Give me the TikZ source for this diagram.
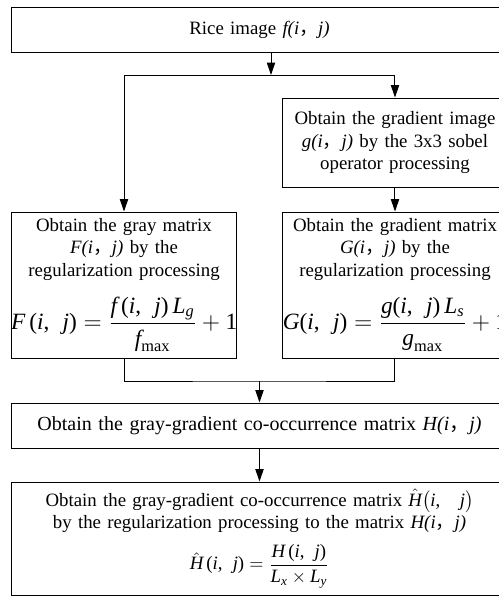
\documentclass[tikz,border=0pt]{standalone}
\usepackage{amsmath}
\usepackage{fontspec}
\setmainfont{Liberation Serif}
\newfontfamily\cjk{Noto Sans CJK SC}
\usepackage{tikz}
\usetikzlibrary{arrows.meta, positioning, calc}
\tikzset{
  flow_box/.style={rectangle, draw=black, line width=0.6pt, inner sep=0pt, align=center, font=\fontsize{11.3}{13.5}\selectfont},
  half_box/.style={flow_box, text width=135.6pt, minimum width=135.6pt},
  wide_box/.style={flow_box, text width=298.2pt, minimum width=298.2pt},
  arrow/.style={-{Triangle[length=7.5pt, width=5pt]}, line width=0.6pt, black},
  connect/.style={-, line width=0.6pt, black}
}
\newcommand{\zhcomma}{{\upshape\cjk ，}}
\newcommand{\pixy}[1]{\textit{#1(i\zhcomma j)}}
% text-font letters inside formulas
\newcommand{\tx}[1]{\text{\itshape #1}}
\newcommand{\tu}[1]{\text{\upshape #1}}
\newcommand{\fij}{\tu{(}\tx{i}\tu{,}\;\;\tx{j}\tu{)}}
\newcommand{\bigform}[1]{\mbox{\fontsize{14}{17}\selectfont$\displaystyle #1$}}

\begin{document}
\begin{tikzpicture}[x=0.6pt, y=-0.6pt]
  \useasboundingbox (0,0) rectangle (499,597);
  \clip (0,0) rectangle (499,597);

  % --- 1. Input image ---
  \node[wide_box, minimum height=27pt] (rice) at (259.5,29.5) {Rice image \pixy{f}};

  % --- 2. Two branches: gray (left) and gradient (right) ---
  \node[half_box, minimum height=53.4pt] (gimg) at (395,142.5)
    {Obtain the gradient image\\ \pixy{g} by the 3x3 sobel\\ operator processing};
  \node[half_box, minimum height=87.6pt] (fmat) at (124,285)
    {Obtain the gray matrix\\ \pixy{F} by the\\ regularization processing\\[9pt]
     \bigform{\tx{F}\,\fij=\frac{\tx{f}\,\fij\,\tx{L}_{\tx{g}}}{\tx{f}_{\tu{max}}}+\tu{1}}};
  \node[half_box, minimum height=87.6pt] (gmat) at (395,285)
    {Obtain the gradient matrix\\ \pixy{G} by the\\ regularization processing\\[9pt]
     \bigform{\tx{G}\fij=\frac{\tx{g}\fij\,\tx{L}_{\tx{s}}}{\tx{g}_{\tu{max}}}+\tu{1}}};

  % --- 3. Co-occurrence matrix and its regularization ---
  \node[wide_box, minimum height=27pt, font=\fontsize{12}{14}\selectfont] (hmat) at (259.5,425.5)
    {Obtain the gray-gradient co-occurrence matrix \pixy{H}\hspace*{16.8pt}};
  \node[wide_box, minimum height=67.8pt] (hhat) at (259.5,538.5)
    {Obtain the gray-gradient co-occurrence matrix
     $\hat{\tx{H}}\bigl(\tx{i}\tu{,}\;\;\tx{j}\bigr)$\\
     by the regularization processing to the matrix \pixy{H}\\[6pt]
     \mbox{$\displaystyle \hat{\tx{H}}\,\fij=\frac{\tx{H}\,\fij}{\tx{L}_{\tx{x}}\times\tx{L}_{\tx{y}}}$}};

  % --- 4. Flow arrows ---
  \coordinate (split) at (271,75);
  \coordinate (merge) at (259.5,381);
  \draw[arrow] (split |- rice.south) -- (split);
  \draw[connect] (split -| fmat.north) -- (split -| gimg.north);
  \draw[arrow] (split -| fmat.north) -- (fmat.north);
  \draw[arrow] (split -| gimg.north) -- (gimg.north);
  \draw[arrow] (gimg.south) -- (gmat.north);
  \draw[connect] (fmat.south) |- (merge) -| (gmat.south);
  \draw[arrow] (merge) -- (hmat.north);
  \draw[arrow] (hmat.south) -- (hhat.north);
\end{tikzpicture}
\end{document}
